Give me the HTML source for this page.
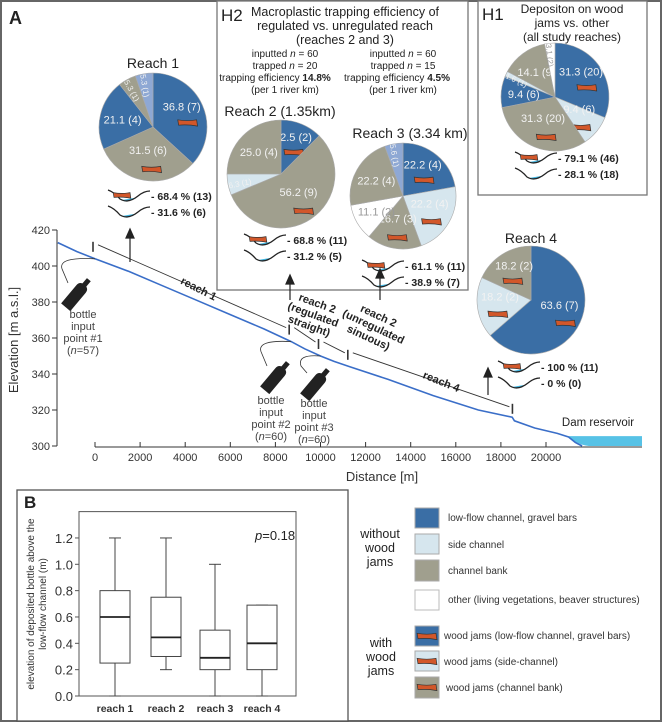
<!DOCTYPE html>
<html><head><meta charset="utf-8"><style>
body{margin:0;background:#fff}
svg{display:block;font-family:"Liberation Sans",sans-serif}
</style></head><body>
<svg id="fig" width="662" height="722" viewBox="0 0 662 722">
<rect x="1" y="1" width="660" height="720" fill="#fff" stroke="#666" stroke-width="2"/>
<text x="9" y="24" font-size="18" font-weight="bold" fill="#222">A</text>
<rect x="217" y="1" width="251" height="289" fill="#fff" stroke="#777" stroke-width="1.3"/>
<rect x="478" y="1" width="169" height="194" fill="#fff" stroke="#777" stroke-width="1.3"/>
<g font-size="17" fill="#222"><text x="221" y="21">H2</text><text x="482" y="20">H1</text></g>
<g font-size="12.5" fill="#222" text-anchor="middle">
<text x="345" y="16">Macroplastic trapping efficiency of</text>
<text x="345" y="30">regulated vs. unregulated reach</text>
<text x="345" y="44">(reaches 2 and 3)</text></g>
<g font-size="10" fill="#222" text-anchor="middle">
<text x="285" y="57">inputted <tspan font-style="italic">n</tspan> = 60</text>
<text x="285" y="69">trapped <tspan font-style="italic">n</tspan> = 20</text>
<text x="275" y="81">trapping efficiency <tspan font-weight="bold">14.8%</tspan></text>
<text x="285" y="93">(per 1 river km)</text>
<text x="403" y="57">inputted <tspan font-style="italic">n</tspan> = 60</text>
<text x="403" y="69">trapped <tspan font-style="italic">n</tspan> = 15</text>
<text x="397" y="81">trapping efficiency <tspan font-weight="bold">4.5%</tspan></text>
<text x="403" y="93">(per 1 river km)</text></g>
<g font-size="12" fill="#222" text-anchor="middle">
<text x="572" y="13">Depositon on wood</text>
<text x="572" y="27">jams vs. other</text>
<text x="572" y="41">(all study reaches)</text></g>
<g font-size="14" fill="#222" text-anchor="middle">
<text x="153" y="68">Reach 1</text>
<text x="280" y="116">Reach 2 (1.35km)</text>
<text x="410" y="138">Reach 3 (3.34 km)</text>
<text x="531" y="243">Reach 4</text></g>
<g id="pies"></g>
<g id="icons"></g>
<g id="elev"></g>
<g font-size="11" fill="#444" text-anchor="middle">
<text transform="translate(18,340) rotate(-90)" font-size="13" fill="#333">Elevation [m a.s.l.]</text>
<text x="382" y="481" font-size="13" fill="#333">Distance [m]</text>
<text x="598" y="426" font-size="11.5" fill="#222">Dam reservoir</text>
<g><text x="83" y="318">bottle</text><text x="83" y="330">input</text><text x="83" y="342">point #1</text><text x="83" y="354">(<tspan font-style="italic">n</tspan>=57)</text></g>
<g><text x="271" y="404">bottle</text><text x="271" y="416">input</text><text x="271" y="428">point #2</text><text x="271" y="440">(<tspan font-style="italic">n</tspan>=60)</text></g>
<g><text x="314" y="407">bottle</text><text x="314" y="419">input</text><text x="314" y="431">point #3</text><text x="314" y="443">(<tspan font-style="italic">n</tspan>=60)</text></g>
</g>
<g font-size="11" font-weight="bold" fill="#222" text-anchor="middle">
<text transform="translate(197,292) rotate(27)">reach 1</text>
<g transform="translate(312,318) rotate(20)"><text y="-12">reach 2</text><text y="0">(regulated</text><text y="12">straight)</text></g>
<g transform="translate(372,330) rotate(25)"><text y="-12">reach 2</text><text y="0">(unregulated</text><text y="12">sinuous)</text></g>
<text transform="translate(440,385) rotate(22)">reach 4</text></g>
<g stroke="#222" stroke-width="1.2" fill="#222">
<line x1="130" y1="262" x2="130" y2="236"/><path d="M126,238 L130,229 L134,238Z"/>
<line x1="290" y1="300" x2="290" y2="282"/><path d="M286,284 L290,275 L294,284Z"/>
<line x1="380" y1="300" x2="380" y2="276"/><path d="M376,278 L380,269 L384,278Z"/>
<line x1="488" y1="395" x2="488" y2="375"/><path d="M484,377 L488,368 L492,377Z"/></g>
<rect x="17" y="490" width="331" height="231" fill="#fff" stroke="#555" stroke-width="1.3"/>
<text x="24" y="508" font-size="17" font-weight="bold" fill="#222">B</text>
<g font-size="10" fill="#333" text-anchor="middle">
<text transform="translate(34,604) rotate(-90)">elevation of deposited bottle above the</text>
<text transform="translate(46,604) rotate(-90)">low-flow channel (m)</text></g>
<text x="255" y="540" font-size="13" fill="#222"><tspan font-style="italic">p</tspan>=0.18</text>
<g id="box"></g>
<g font-size="10" fill="#333">
<g font-size="12.5" fill="#222" text-anchor="middle"><text x="380" y="538">without</text><text x="380" y="552">wood</text><text x="380" y="566">jams</text>
<text x="381" y="647">with</text><text x="381" y="661">wood</text><text x="381" y="675">jams</text></g>
<rect x="415" y="508" width="24" height="20" fill="#3a6ea5" stroke="#aaa"/><text x="448" y="521">low-flow channel, gravel bars</text>
<rect x="415" y="534" width="24" height="20" fill="#d6e6ee" stroke="#aaa"/><text x="448" y="548">side channel</text>
<rect x="415" y="560" width="24" height="21" fill="#a09f8e" stroke="#aaa"/><text x="448" y="574">channel bank</text>
<rect x="415" y="590" width="24" height="20" fill="#fff" stroke="#bbb"/><text x="448" y="603">other (living vegetations, beaver structures)</text>
<rect x="415" y="626" width="24" height="20" fill="#3a6ea5" stroke="#aaa"/><text x="444" y="639">wood jams (low-flow channel, gravel bars)</text>
<rect x="415" y="651" width="24" height="20" fill="#d6e6ee" stroke="#aaa"/><text x="444" y="665">wood jams (side-channel)</text>
<rect x="415" y="677" width="24" height="21" fill="#a09f8e" stroke="#aaa"/><text x="446" y="691">wood jams (channel bank)</text>
<g id="legendjams"></g>
</g>
</svg>
<script>
const reach1Values=[36.8,31.5,21.1,5.3,5.3];
const reach1Labels=["36.8 (7)","31.5 (6)","21.1 (4)","5.3 (1)","5.3 (1)"];
const reach1Types=["blueWJ","grayWJ","blue","gray","lblue"];
const reach2Values=[12.5,56.2,6.3,25.0];
const reach2Labels=["12.5 (2)","56.2 (9)","6.3 (1)","25.0 (4)"];
const reach2Types=["blueWJ","grayWJ","light","gray"];
const reach3Values=[22.2,22.2,16.7,11.1,22.2,5.6];
const reach3Labels=["22.2 (4)","22.2 (4)","16.7 (3)","11.1 (2)","22.2 (4)","5.6 (1)"];
const reach3Types=["blueWJ","lightWJ","grayWJ","white","gray","lblue"];
const h1Values=[31.3,9.4,31.3,9.4,1.6,14.1,3.1];
const h1Labels=["31.3 (20)","9.4 (6)","31.3 (20)","9.4 (6)","1.6 (1)","14.1 (9)","3.1 (2)"];
const h1Types=["blueWJ","lightWJ","grayWJ","blue","light","gray","white"];
const reach4Values=[63.6,18.2,18.2];
const reach4Labels=["63.6 (7)","18.2 (2)","18.2 (2)"];
const reach4Types=["blueWJ","lightWJ","grayWJ"];
const jamLabels=["68.4 % (13)","68.8 % (11)","61.1 % (11)","79.1 % (46)","100 % (11)"];
const otherLabels=["31.6 % (6)","31.2 % (5)","38.9 % (7)","28.1 % (18)","0 % (0)"];
const profileDist=[-1650,-800,0,1500,3000,4500,6000,7500,8700,9300,10000,10600,11300,13000,15000,17000,18500,18600,19500,20500,21000,21300,21600];
const profileElev=[413,408,404,397,389,381,373,365,358,354,350,347,344,337,328,320,316,314,310,307,305,302,300];
const xTicks=[0,2000,4000,6000,8000,10000,12000,14000,16000,18000,20000];
const yTicks=[300,320,340,360,380,400,420];
const reachBreaks=[0,8700,10000,11300,18600];
const bottleInputs=[[0,404],[8700,358],[10000,350]];
const boxCats=["reach 1","reach 2","reach 3","reach 4"];
const boxMin=[0,0.2,0,0];
const boxQ1=[0.25,0.3,0.2,0.2];
const boxMed=[0.6,0.445,0.29,0.4];
const boxQ3=[0.8,0.75,0.5,0.69];
const boxMax=[1.2,1.2,1.0,0.69];
const boxTicks=[0,0.2,0.4,0.6,0.8,1.0,1.2];

const NS="http://www.w3.org/2000/svg";
function mk(tag,attrs,parent){const e=document.createElementNS(NS,tag);for(const k in attrs)e.setAttribute(k,attrs[k]);parent.appendChild(e);return e;}
const colors={blue:"#3a6ea5",blueWJ:"#3a6ea5",gray:"#a09f8e",grayWJ:"#a09f8e",light:"#d6e6ee",lightWJ:"#d6e6ee",white:"#fff",lblue:"#8ea8d4"};
function jam(g,x,y,s){const p=mk("path",{d:`M${x-11*s},${y-3*s} Q${x},${y-1*s} ${x+10*s},${y-3*s} L${x+11*s},${y+4*s} Q${x},${y+2*s} ${x-10*s},${y+3*s}Z`,fill:"#d2572a",stroke:"#333","stroke-width":0.7},g);

}
function interp(d){for(let i=1;i<profileDist.length;i++){if(d<=profileDist[i]){const f=(d-profileDist[i-1])/(profileDist[i]-profileDist[i-1]);return profileElev[i-1]+f*(profileElev[i]-profileElev[i-1]);}}return 300;}
function pie(name,cx,cy,r,vals,labels,types){
 const g=mk("g",{},document.getElementById("pies"));
 
 
 const tot=vals.reduce((a,b)=>a+b,0);let a0=-Math.PI/2;
 vals.forEach((v,i)=>{const a1=a0+v/tot*2*Math.PI;
  const x0=cx+r*Math.cos(a0),y0=cy+r*Math.sin(a0),x1=cx+r*Math.cos(a1),y1=cy+r*Math.sin(a1);
  const sl=mk("path",{d:`M${cx},${cy} L${x0},${y0} A${r},${r} 0 ${a1-a0>Math.PI?1:0} 1 ${x1},${y1}Z`,fill:colors[types[i]],stroke:"#aaa","stroke-width":0.6},g);
  
  
  const am=(a0+a1)/2;const frac=v/tot;const rr=frac<0.08?0.78:0.58;
  const lx=cx+r*rr*Math.cos(am),ly=cy+r*rr*Math.sin(am);
  const t=mk("text",{x:lx,y:ly+(types[i].endsWith("WJ")?-4:4),"font-size":frac<0.08?8:11,fill:types[i]==="white"?"#999":"#f2f2f2","text-anchor":"middle"},g);
  if(frac<0.08)t.setAttribute("transform",`rotate(${am*180/Math.PI+(Math.cos(am)<0?180:0)} ${lx} ${ly})`);
  t.textContent=labels[i];
  
  
  if(types[i].endsWith("WJ"))jam(g,cx+r*0.62*Math.cos(am)+(frac>0.3?4:0),cy+r*0.62*Math.sin(am)+9,0.9);
  a0=a1;});
}
pie("reach1-pie",153,127,54,reach1Values,reach1Labels,reach1Types);
pie("reach2-pie",281,174,54,reach2Values,reach2Labels,reach2Types);
pie("reach3-pie",403,196,53,reach3Values,reach3Labels,reach3Types);
pie("h1-pie",555,97,54,h1Values,h1Labels,h1Types);
pie("reach4-pie",531,300,54,reach4Values,reach4Labels,reach4Types);
const lj=document.getElementById("legendjams");
jam(lj,427,636,0.9);jam(lj,427,661,0.9);jam(lj,427,687,0.9);
const iconPos=[[108,196],[244,240],[362,266],[515,158],[498,367]];
const ig=document.getElementById("icons");
iconPos.forEach((p,i)=>{[0,1].forEach(k=>{const x=p[0],y=p[1]+k*16;
 const g=mk("g",{},ig);
 
 
 mk("path",{d:`M${x+14},${y+4} Q${x+16},${y+6} ${x+20},${y+5} Q${x+24},${y+4} ${x+26},${y+2}Z`,fill:"#3db4e0"},g);
 mk("path",{d:`M${x},${y-6} Q${x+6},${y-4} ${x+12},${y+3} Q${x+20},${y+8} ${x+30},${y} Q${x+36},${y-5} ${x+42},${y-5}`,fill:"none",stroke:"#222","stroke-width":1.3},g);
 if(!k)jam(g,x+14,y-1,0.8);
 const t=mk("text",{x:x+43,y:y+4,"font-size":10.5,"font-weight":"bold",fill:"#222"},g);
 t.textContent="- "+(k?otherLabels[i]:jamLabels[i]);
 
 });});
const X=d=>95+d*0.02255, Y=e=>446-(e-300)*1.8;
const eg=document.getElementById("elev");
const ax=mk("g",{stroke:"#333","stroke-width":1,fill:"none"},eg);


mk("line",{x1:57,y1:Y(420),x2:57,y2:Y(300)},ax);
mk("line",{x1:X(0),y1:447,x2:642,y2:447},ax);
yTicks.forEach(v=>{mk("line",{x1:52,y1:Y(v),x2:57,y2:Y(v)},ax);
 const t=mk("text",{x:50,y:Y(v)+4,"font-size":11,fill:"#333",stroke:"none","text-anchor":"end"},eg);t.textContent=v;
 
 });
xTicks.forEach(v=>{mk("line",{x1:X(v),y1:447,x2:X(v),y2:442},ax);
 const t=mk("text",{x:X(v),y:461,"font-size":11,fill:"#333","text-anchor":"middle"},eg);t.textContent=v;
 
 });
const res=mk("path",{d:`M${X(21000)},${Y(305.5)} L642,${Y(305.5)} L642,446 L${X(21900)},446 Q${X(21300)},${Y(301)} ${X(21000)},${Y(305.5)}Z`,fill:"#57c2e6"},eg);


const line=mk("polyline",{points:profileDist.map((d,i)=>X(d)+","+Y(profileElev[i])).join(" "),fill:"none",stroke:"#3a6ec8","stroke-width":1.6},eg);


const segs=mk("g",{stroke:"#333","stroke-width":0.9},eg);


reachBreaks.forEach((d,i)=>{const yy=Y(interp(d))-12;
 mk("line",{x1:X(d)-2,y1:yy-5,x2:X(d)-2,y2:yy+5,"stroke-width":1.6},segs);
 if(i<reachBreaks.length-1){const d2=reachBreaks[i+1];mk("line",{x1:X(d)+3,y1:yy-2,x2:X(d2)-5,y2:Y(interp(d2))-14},segs);}});
const bottlePos=[[76,295],[275,378],[315,385]];
bottleInputs.forEach((b,i)=>{const px=X(b[0]),py=Y(b[1]);const bx=bottlePos[i][0],by=bottlePos[i][1];
 const c=mk("path",{d:`M${px},${py} Q${bx-18},${py-2} ${bx-14},${py+10} L${bx-8},${by-12}`,fill:"none",stroke:"#333","stroke-width":0.8},eg);
 
 
 const bt=mk("path",{d:"M-6,-8 Q-6,-12 -2.5,-13 L-2.5,-20 L2.5,-20 L2.5,-13 Q6,-12 6,-8 L6,16 L-6,16Z",fill:"#222",transform:`translate(${bx},${by}) rotate(40)`},eg);
 
 });
const bg=document.getElementById("box");
const BY=v=>696-v*131.7, bx0=79, bx1=296, bCx=[115,166,215,262];
const fr=mk("rect",{x:bx0,y:BY(1.4),width:bx1-bx0,height:BY(0)-BY(1.4),fill:"none",stroke:"#555","stroke-width":1},bg);


boxTicks.forEach(v=>{mk("line",{x1:bx0-4,y1:BY(v),x2:bx0,y2:BY(v),stroke:"#555"},bg);
 const t=mk("text",{x:bx0-6,y:BY(v)+5,"font-size":13,fill:"#333","text-anchor":"end"},bg);t.textContent=v.toFixed(1);
 
 });
boxCats.forEach((c,i)=>{const g=mk("g",{stroke:"#444","stroke-width":1,fill:"#fff"},bg);
 
 
 const x=bCx[i];
 mk("line",{x1:x,y1:BY(boxMax[i]),x2:x,y2:BY(boxMin[i])},g);
 mk("line",{x1:x-6,y1:BY(boxMax[i]),x2:x+6,y2:BY(boxMax[i])},g);
 mk("line",{x1:x-6,y1:BY(boxMin[i]),x2:x+6,y2:BY(boxMin[i])},g);
 mk("rect",{x:x-15,y:BY(boxQ3[i]),width:30,height:BY(boxQ1[i])-BY(boxQ3[i])},g);
 mk("line",{x1:x-15,y1:BY(boxMed[i]),x2:x+15,y2:BY(boxMed[i]),"stroke-width":1.8,stroke:"#222"},g);
 const t=mk("text",{x:x,y:712,"font-size":10.5,"font-weight":"bold",fill:"#333","text-anchor":"middle",stroke:"none"},bg);t.textContent=c;
 
 });
</script>
</body></html>
